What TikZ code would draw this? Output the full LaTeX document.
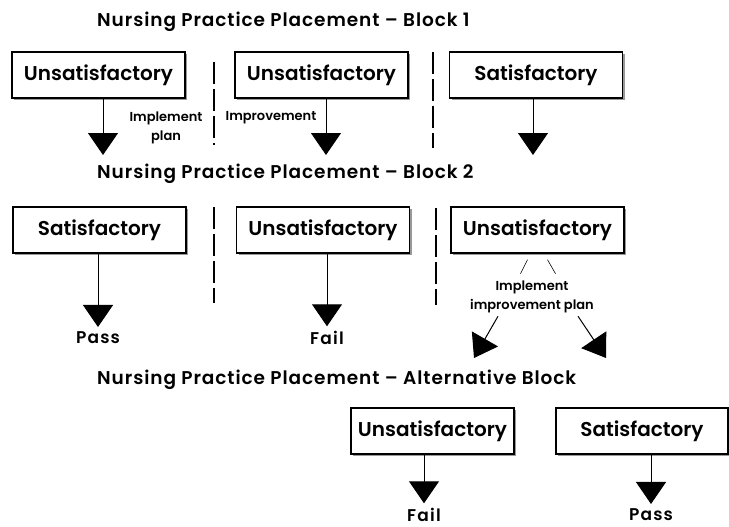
\documentclass[tikz,border=0pt]{standalone}
\usepackage{fontspec}
\setmainfont{Poppins}[BoldFont={Poppins SemiBold}]
\usetikzlibrary{arrows.meta,shadows}
\tikzset{
  result/.style = {draw, line width=1.4pt, fill=white, minimum width=#1,
                   minimum height=46pt, inner sep=0pt,
                   font=\fontsize{20}{20}\selectfont\bfseries,
                   drop shadow={shadow xshift=2pt, shadow yshift=-2pt,
                                fill=black!40, opacity=1}},
  result/.default = 173pt,
  heading/.style = {anchor=base west, inner sep=0pt,
                    font=\fontsize{18.5}{18.5}\selectfont\bfseries\addfontfeatures{LetterSpace=5}},
  outcome/.style = {inner sep=0pt, outer sep=5pt,
                    font=\fontsize{17}{17}\selectfont\bfseries\addfontfeatures{LetterSpace=7}},
  note/.style = {inner sep=0pt, align=center, font=\fontsize{13}{19}\selectfont\bfseries},
  down/.style = {line width=1pt, -{Triangle[width=30pt,length=22pt]}},
  split/.style = {line width=0.6pt},
  divider/.style = {line width=1.6pt, dash pattern=on 22pt off 5pt}
}

\begin{document}
\begin{tikzpicture}[x=1pt,y=-1pt]
	\useasboundingbox (0,0) rectangle (729,527);
	\def \rowA{75}  % block 1
	\def \rowB{230} % block 2
	\def \rowC{431} % alternative block
	
	% Headings
	\node[heading] (headA) at (97,27)  {Nursing Practice Placement -- Block 1};
	\node[heading] (headB) at (97,178) {Nursing Practice Placement -- Block 2};
	\node[heading] (headC) at (97,384) {Nursing Practice Placement -- Alternative Block};
	
	% Block 1
	\node[result] (unsA) at (98.5,\rowA)  {Unsatisfactory};
	\node[result] (unsB) at (321.5,\rowA) {Unsatisfactory};
	\node[result] (satA) at (536,\rowA)   {Satisfactory};
	\coordinate (tipA) at (103,155);
	\coordinate (tipB) at (326,155);
	\coordinate (tipC) at (533,155);
	\draw[down] (unsA.south -| tipA) -- (tipA);
	\draw[down] (unsB.south -| tipB) -- (tipB);
	\draw[down] (satA.south -| tipC) -- (tipC);
	\node[note] (implA) at (166,127.5) {Implement\\plan};
	\node[note] (imprA) at (271,118)   {Improvement};
	
	% Dividers
	\draw[divider] (214,62)  -- (214,145);
	\draw[divider] (433,52)  -- (433,148);
	\draw[divider] (214,207) -- (214,303);
	\draw[divider] (436,208) -- (436,305);
	
	% Block 2
	\node[result] (satB) at (99.5,\rowB)  {Satisfactory};
	\node[result] (unsC) at (323,\rowB)   {Unsatisfactory};
	\node[result] (unsD) at (537.5,\rowB) {Unsatisfactory};
	\node[outcome] (passB) at (98,338)  {Pass};
	\node[outcome] (failB) at (327,338) {Fail};
	\draw[down] (satB.south -| passB) -- (passB);
	\draw[down] (unsC.south -| failB) -- (failB);
	
	% Improvement plan
	\node[note] (planD) at (532,297) {Implement\\improvement plan};
	\draw[split] (unsD.south) ++(-10,6) -- ++(-7,14);
	\draw[split] (unsD.south) ++(10,6)  -- ++(8,14);
	\coordinate (altU) at (474,358);
	\coordinate (altS) at (606,358);
	\draw[down] (planD.south) ++(-34,3) -- (altU);
	\draw[down] (planD.south) ++(46,3)  -- (altS);
	
	% Alternative block
	\node[result=163pt] (unsE) at (432.5,\rowC) {Unsatisfactory};
	\node[result=172pt] (satE) at (642,\rowC)   {Satisfactory};
	\node[outcome] (failE) at (424,515) {Fail};
	\node[outcome] (passE) at (651,515) {Pass};
	\draw[down] (unsE.south -| failE) -- (failE);
	\draw[down] (satE.south -| passE) -- (passE);
	
\end{tikzpicture}
\end{document}
